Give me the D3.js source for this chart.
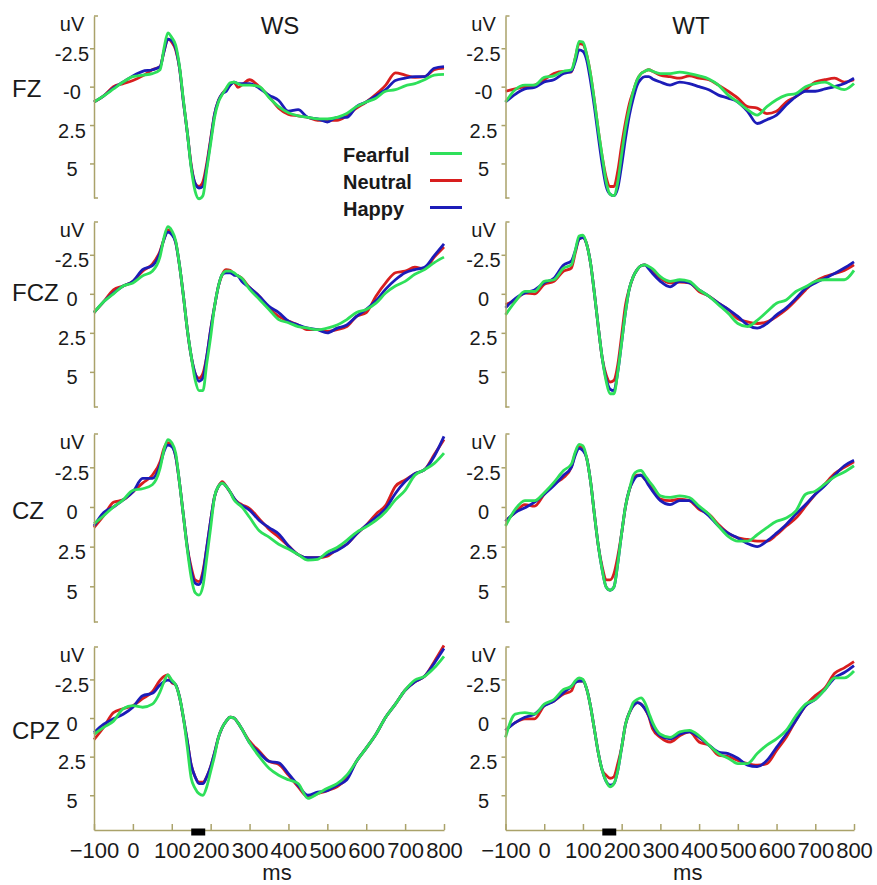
<!DOCTYPE html>
<html>
<head>
<meta charset="utf-8">
<script src="https://cdn.jsdelivr.net/npm/d3@7"></script>
<style>
body { margin: 0; background: #fff; }
text { font-family: "Liberation Sans", Arial, sans-serif; fill: #1a1a1a; }
</style>
</head>
<body>
<div id="chart"></div>
<script>
// time points (ms) shared by every waveform
var times = [-100,-75,-50,-25,0,25,50,70,80,90,100,110,120,130,140,150,160,170,180,190,200,210,220,230,240,250,260,270,280,300,325,350,375,400,425,450,475,500,525,550,575,600,625,650,675,700,725,750,775,800];

var groups = ["WS", "WT"];
var electrodes = ["FZ", "FCZ", "CZ", "CPZ"];
var conditions = ["Fearful", "Neutral", "Happy"];
var xTicks = [-100, 0, 100, 200, 300, 400, 500, 600, 700, 800];
var yTicks = [-2.5, 0, 2.5, 5];
var yTickLabelsFZ = ["-2.5", "-0", "2.5", "5"];
var yTickLabels = ["-2.5", "0", "2.5", "5"];
var sigWindow = [150, 186];

// ---- WS ----
var wsFZ_fearful = [1.0,0.6,0.15,-0.3,-0.65,-0.75,-0.85, -1.1,-2.5,-3.5,-3.2,-2.7, -1.3,0.9,3.0,5.3,6.8,7.3,7.1,5.4,3.7, 2.0,1.0,0.5,0.1,-0.25,-0.3,-0.2,-0.1, -0.1,0.0,0.7,1.3,1.7,1.9,2.0,2.1,2.1,2.0,1.75,1.3,1.0,0.75,0.3,0.2,-0.05,-0.2,-0.45,-0.75,-0.8];
var wsFZ_neutral = [1.0,0.6,0.0,-0.2,-0.4,-0.7,-1.1, -1.3,-2.3,-3.1,-2.9,-2.4, -1.2,1.0,3.0,5.1,6.3,6.5,6.2,5.0,3.4, 1.8,0.9,0.45,0.15,-0.1,-0.3,0.05,-0.1, -0.45,0.0,0.65,1.4,1.8,1.9,2.0,2.2,2.2,2.2,1.9,1.4,1.0,0.5,-0.1,-0.9,-0.75,-0.6,-0.65,-1.1,-1.2];
var wsFZ_happy = [1.0,0.6,0.1,-0.3,-0.7,-1.0,-1.1, -1.3,-2.3,-3.1,-3.0,-2.5, -1.2,1.0,3.0,5.2,6.3,6.6,6.5,5.2,3.5, 1.8,0.9,0.45,0.3,-0.1,-0.3,-0.2,-0.2, -0.2,0.1,0.55,0.9,1.6,1.5,2.0,2.1,2.3,2.0,2.0,1.3,1.0,0.6,0.2,-0.4,-0.55,-0.65,-0.65,-1.2,-1.3];

var wsFCZ_fearful = [1.2,0.5,0.0,-0.5,-0.7,-1.15,-1.45, -2.4,-3.6,-4.3,-4.05,-3.4, -1.8,0.15,2.3,4.0,5.5,6.2,6.2,4.45,2.75, 0.8,-0.5,-1.25,-1.45,-1.45,-1.35,-1.15,-1.0, -0.3,0.35,1.0,1.65,1.85,2.1,2.2,2.3,2.2,2.0,1.65,1.2,1.0,0.6,-0.05,-0.5,-0.8,-1.25,-1.55,-2.0,-2.35];
var wsFCZ_neutral = [1.2,0.5,-0.25,-0.5,-0.8,-1.45,-1.9, -2.75,-3.5,-4.1,-3.9,-3.3, -1.8,0.15,2.3,4.0,5.1,5.4,5.1,4.0,2.3, 0.8,-0.5,-1.25,-1.55,-1.5,-1.25,-1.15,-1.0, -0.4,0.15,0.9,1.45,1.75,2.0,2.3,2.3,2.4,2.3,2.1,1.45,1.2,0.15,-0.7,-1.35,-1.45,-1.7,-1.6,-2.35,-3.0];
var wsFCZ_happy = [1.2,0.5,-0.05,-0.5,-0.8,-1.55,-1.8, -2.65,-3.5,-3.95,-3.8,-3.3, -1.8,0.15,2.3,4.0,5.1,5.6,5.4,4.0,2.3, 0.8,-0.5,-1.25,-1.35,-1.35,-1.2,-1.15,-0.8, -0.4,0.15,0.8,1.2,1.75,2.0,2.2,2.3,2.5,2.2,2.0,1.45,1.0,0.45,-0.3,-0.9,-1.35,-1.55,-1.7,-2.45,-3.2];

var wsCZ_fearful = [1.05,0.55,0.0,-0.45,-1.05,-1.15,-1.4, -2.45,-3.6,-4.25,-4.05,-3.4, -1.5,0.55,2.7,4.45,5.4,5.55,5.0,3.2,1.3, -0.65,-1.3,-1.5,-1.3,-0.95,-0.45,-0.2,0.0, 0.65,1.5,1.9,2.35,2.65,3.0,3.35,3.3,2.85,2.55,2.1,1.6,1.25,0.85,0.3,-0.45,-1.05,-2.0,-2.35,-2.75,-3.4];
var wsCZ_neutral = [1.3,0.55,-0.3,-0.45,-0.95,-1.5,-2.0, -2.85,-3.7,-4.05,-3.9,-3.2, -1.5,0.55,2.55,3.8,4.6,4.7,4.05,2.55,0.85, -0.65,-1.3,-1.6,-1.3,-0.95,-0.55,-0.3,-0.15, 0.1,0.75,1.4,1.9,2.45,3.0,3.2,3.2,3.1,2.65,2.35,1.7,1.15,0.45,-0.1,-1.3,-1.7,-2.1,-2.35,-3.3,-4.25];
var wsCZ_happy = [1.2,0.35,0.0,-0.45,-0.95,-1.8,-1.8, -2.65,-3.5,-3.9,-3.8,-3.2, -1.5,0.55,2.55,4.05,4.8,4.9,4.25,2.55,0.85, -0.65,-1.3,-1.5,-1.3,-0.95,-0.55,-0.25,-0.1, 0.2,0.85,1.3,1.7,2.45,3.0,3.2,3.2,3.0,2.75,2.35,1.7,1.15,0.65,0.1,-0.85,-1.6,-2.1,-2.35,-3.2,-4.45];

var wsCPZ_fearful = [1.05,0.6,0.2,-0.6,-0.8,-0.7,-0.9, -1.7,-2.35,-2.8,-2.45,-2.15, -1.35,0.0,1.9,3.9,4.55,4.9,5.0,4.45,3.45, 2.45,1.25,0.6,0.2,-0.05,0.0,0.3,0.7, 1.6,2.5,3.25,3.7,4.0,4.25,5.2,4.9,4.55,4.25,3.7,2.8,1.95,1.05,-0.05,-0.9,-1.8,-2.45,-2.7,-3.25,-4.0];
var wsCPZ_neutral = [1.4,0.6,-0.35,-0.6,-0.8,-1.25,-1.7, -2.45,-2.7,-2.8,-2.3,-2.15, -1.35,0.0,1.5,3.05,3.8,4.15,4.15,3.8,3.15, 2.25,1.25,0.6,0.2,-0.05,0.0,0.3,0.7, 1.5,2.15,2.8,3.0,3.7,4.45,5.1,4.9,4.7,4.45,3.9,2.8,1.95,1.05,-0.05,-0.9,-1.8,-2.35,-2.7,-3.65,-4.7];
var wsCPZ_happy = [0.95,0.4,0.05,-0.25,-0.7,-1.45,-1.6, -2.15,-2.35,-2.45,-2.35,-2.15, -1.35,0.0,1.5,3.05,3.8,4.25,4.25,3.8,3.15, 2.25,1.25,0.6,0.2,-0.05,0.0,0.3,0.7, 1.6,2.25,2.8,2.9,3.6,4.35,5.0,4.8,4.7,4.35,4.0,2.8,1.95,1.05,-0.05,-0.9,-1.8,-2.35,-2.7,-3.55,-4.5];

// ---- WT ----
var wtFZ_fearful = [1.0,0.2,-0.1,-0.1,-0.6,-0.7,-1.0, -1.1,-1.85,-2.95,-2.9,-2.05, -0.75,1.0,2.9,4.6,6.2,7.0,7.1,6.2,4.4, 2.7,1.4,0.3,-0.45,-0.85,-1.0,-1.1,-1.0, -0.85,-0.85,-0.95,-0.85,-0.7,-0.5,-0.1,0.55,1.0,1.5,1.85,1.3,0.85,0.55,0.45,0.0,-0.2,-0.3,0.0,0.2,-0.2];
var wtFZ_neutral = [0.3,0.15,0.0,-0.1,-0.45,-0.85,-1.0, -0.95,-1.85,-2.8,-2.75,-2.05, -0.75,1.0,2.9,4.6,5.9,6.5,6.5,5.5,3.8, 2.3,1.1,0.3,-0.45,-0.85,-1.0,-1.1,-1.0, -0.75,-0.65,-0.55,-0.7,-0.55,-0.45,-0.1,0.3,0.75,1.3,1.4,1.75,1.6,1.0,0.65,0.2,-0.3,-0.45,-0.55,-0.3,-0.45];
var wtFZ_happy = [1.0,0.5,0.15,0.05,-0.3,-0.45,-0.85, -1.0,-1.6,-2.4,-2.3,-1.7, -0.3,1.4,3.3,5.1,6.5,7.0,7.1,6.6,5.1, 3.35,1.85,0.75,-0.1,-0.5,-0.65,-0.65,-0.5, -0.3,-0.1,-0.3,-0.2,0.0,0.2,0.55,0.75,1.0,1.6,2.4,2.15,1.85,1.2,0.65,0.3,0.3,0.15,0.0,-0.2,-0.55];

var wtFCZ_fearful = [1.35,0.5,-0.15,-0.15,-0.8,-0.9,-1.65, -1.85,-2.75,-3.7,-3.75,-3.15, -1.9,0.05,2.2,4.15,5.6,6.4,6.4,5.0,3.1, 1.15,-0.35,-1.1,-1.55,-1.8,-1.85,-1.75,-1.6, -1.1,-0.8,-0.9,-0.8,-0.25,0.15,0.7,1.25,1.9,2.1,1.7,1.15,0.6,0.4,-0.15,-0.45,-0.8,-0.9,-0.9,-0.9,-1.5];
var wtFCZ_neutral = [0.7,0.4,-0.05,0.0,-0.6,-0.8,-1.45, -1.65,-2.6,-3.5,-3.6,-3.15, -1.9,0.05,2.2,4.15,5.2,5.65,5.55,4.55,2.65, 0.7,-0.35,-1.1,-1.55,-1.8,-1.85,-1.7,-1.5, -1.0,-0.7,-0.75,-0.7,-0.15,0.15,0.6,1.0,1.6,1.8,1.9,1.8,1.45,1.0,0.4,-0.25,-0.8,-1.1,-1.3,-1.5,-1.85];
var wtFCZ_happy = [0.9,0.3,-0.05,-0.25,-0.7,-1.0,-1.85, -2.1,-2.75,-3.5,-3.6,-3.15, -1.9,0.05,2.2,4.15,5.45,6.1,6.2,5.0,3.1, 1.15,-0.35,-1.1,-1.55,-1.8,-1.85,-1.6,-1.3, -0.8,-0.45,-0.8,-0.7,-0.25,0.15,0.6,1.0,1.45,2.0,2.2,1.9,1.35,0.9,0.3,-0.35,-0.7,-1.0,-1.3,-1.65,-2.05];

var wtCZ_fearful = [1.2,0.15,-0.4,-0.4,-0.9,-1.55,-2.3, -2.7,-3.45,-3.95,-3.85,-3.05, -1.55,0.55,2.5,4.0,5.05,5.25,5.05,3.55,1.65, -0.05,-1.1,-2.0,-2.25,-2.3,-2.0,-1.65,-1.35, -0.7,-0.6,-0.7,-0.6,-0.05,0.45,1.2,1.85,2.15,2.15,1.75,1.3,0.9,0.7,0.25,-0.8,-1.0,-1.45,-1.9,-2.2,-2.6];
var wtCZ_neutral = [0.9,0.35,-0.15,-0.05,-0.8,-1.45,-1.85, -2.5,-3.35,-3.8,-3.65,-3.05, -1.55,0.55,2.5,3.8,4.6,4.6,4.2,3.1,1.65, -0.05,-1.1,-1.75,-2.0,-2.0,-1.75,-1.55,-1.15, -0.5,-0.4,-0.5,-0.4,0.15,0.45,1.1,1.65,1.95,2.05,2.15,2.15,1.75,1.2,0.7,-0.05,-0.8,-1.45,-2.1,-2.5,-2.85];
var wtCZ_happy = [0.9,0.35,0.05,-0.3,-0.8,-1.35,-2.0, -2.5,-3.25,-3.7,-3.55,-3.05, -1.55,0.55,2.5,4.0,5.05,5.25,5.05,3.55,1.65, -0.05,-1.1,-1.65,-1.95,-2.0,-1.75,-1.35,-1.0, -0.4,-0.15,-0.4,-0.4,0.05,0.55,1.2,1.65,1.95,2.3,2.5,2.15,1.65,1.1,0.45,-0.15,-0.8,-1.35,-2.0,-2.6,-2.95];

var wtCPZ_fearful = [1.25,-0.25,-0.35,-0.25,-0.9,-1.2,-1.85, -2.05,-2.4,-2.6,-2.5,-1.85, -0.7,0.8,2.3,3.4,4.1,4.45,4.25,3.4,1.9, 0.4,-0.35,-1.0,-1.2,-1.3,-1.0,-0.35,0.3, 1.05,1.25,0.9,0.8,1.15,1.75,2.3,2.6,2.95,2.95,2.3,1.75,1.35,0.8,-0.15,-0.9,-1.2,-1.85,-2.6,-2.6,-3.05];
var wtCPZ_neutral = [0.8,0.3,0.05,0.05,-0.8,-1.1,-1.55, -1.75,-2.3,-2.4,-2.4,-1.85, -0.7,0.8,2.3,3.4,3.7,3.9,3.8,2.95,1.9, 0.4,-0.35,-0.8,-1.0,-0.9,-0.6,-0.1,0.7, 1.25,1.55,1.15,0.9,1.55,1.75,2.4,2.5,2.75,2.95,3.05,2.95,2.1,1.25,0.15,-0.8,-1.45,-1.95,-2.9,-3.25,-3.65];
var wtCPZ_happy = [0.8,0.3,-0.05,-0.25,-0.8,-1.1,-1.65, -2.05,-2.3,-2.4,-2.4,-1.85, -0.7,0.8,2.3,3.4,4.1,4.35,4.25,3.4,1.9, 0.4,-0.35,-0.8,-1.0,-0.9,-0.6,-0.15,0.5, 1.15,1.35,1.05,0.9,1.25,1.75,2.2,2.3,2.6,3.05,3.15,2.75,1.9,1.05,0.15,-0.8,-1.2,-1.85,-2.6,-2.95,-3.4];

// lookup table built from the arrays above
var waves = {
    WS: {
        FZ:  { Fearful: wsFZ_fearful,  Neutral: wsFZ_neutral,  Happy: wsFZ_happy },
        FCZ: { Fearful: wsFCZ_fearful, Neutral: wsFCZ_neutral, Happy: wsFCZ_happy },
        CZ:  { Fearful: wsCZ_fearful,  Neutral: wsCZ_neutral,  Happy: wsCZ_happy },
        CPZ: { Fearful: wsCPZ_fearful, Neutral: wsCPZ_neutral, Happy: wsCPZ_happy }
    },
    WT: {
        FZ:  { Fearful: wtFZ_fearful,  Neutral: wtFZ_neutral,  Happy: wtFZ_happy },
        FCZ: { Fearful: wtFCZ_fearful, Neutral: wtFCZ_neutral, Happy: wtFCZ_happy },
        CZ:  { Fearful: wtCZ_fearful,  Neutral: wtCZ_neutral,  Happy: wtCZ_happy },
        CPZ: { Fearful: wtCPZ_fearful, Neutral: wtCPZ_neutral, Happy: wtCPZ_happy }
    }
};

// sanity check on lengths
groups.forEach(function(g) {
    electrodes.forEach(function(e) {
        conditions.forEach(function(c) {
            if (waves[g][e][c].length !== times.length) {
                throw new Error(g + " " + e + " " + c + " has " + waves[g][e][c].length + " points");
            }
        });
    });
});

// layout
var svgWidth = 877;
var svgHeight = 885;
var colLeft = [94, 505.5];
var colRight = [444, 854];
var colTitleX = [280, 691];
var rowTop = [16, 222, 434, 647];
var rowBottom = [198, 407, 622, 830];
var rowLabelY = [97, 301, 519, 739];
var yDomain = [-4.6, 7.25];

var colors = { Fearful: "#2ee05a", Neutral: "#d81e1e", Happy: "#1c1cb8" };
var drawOrder = ["Neutral", "Happy", "Fearful"];
var axisColor = "#aaa26a";

var svg = d3.select("#chart")
    .append("svg")
    .attr("width", svgWidth)
    .attr("height", svgHeight);

groups.forEach(function(group, c) {
    var x = d3.scaleLinear()
        .domain([-100, 800])
        .range([colLeft[c], colRight[c]]);

    // column title
    svg.append("text")
        .attr("x", colTitleX[c])
        .attr("y", 34)
        .attr("text-anchor", "middle")
        .style("font-size", "24px")
        .text(group);

    electrodes.forEach(function(elec, r) {
        var y = d3.scaleLinear()
            .domain(yDomain)
            .range([rowTop[r], rowBottom[r]]);

        var panel = svg.append("g");

        // waveforms
        var line = d3.line()
            .x(function(d, i) { return x(times[i]); })
            .y(function(d) { return y(d); })
            .curve(d3.curveMonotoneX);

        drawOrder.forEach(function(cond) {
            panel.append("path")
                .datum(waves[group][elec][cond])
                .attr("d", line)
                .attr("fill", "none")
                .attr("stroke", colors[cond])
                .attr("stroke-width", 2.8)
                .attr("stroke-linejoin", "round");
        });

        // y axis
        var labels = elec === "FZ" ? yTickLabelsFZ : yTickLabels;
        var leftAxis = d3.axisLeft(y)
            .tickValues(yTicks)
            .tickSize(4)
            .tickSizeOuter(0)
            .tickFormat(function(d, i) { return labels[i]; });

        var gy = panel.append("g")
            .attr("transform", `translate(${x(-100)}, 0)`)
            .call(leftAxis);
        gy.attr("font-family", null).attr("font-size", null);
        gy.select(".domain").attr("stroke", axisColor).attr("stroke-width", 1.5);
        gy.selectAll(".tick line").attr("stroke", axisColor).attr("stroke-width", 1.5);
        gy.selectAll(".tick text")
            .attr("x", -22)
            .attr("y", 5)
            .attr("dy", "0.35em")
            .attr("text-anchor", "middle")
            .attr("fill", null)
            .style("font-size", "20px");

        // small end marks pointing right
        [rowTop[r], rowBottom[r]].forEach(function(yy, k) {
            if (k === 1 && r === electrodes.length - 1) return;
            gy.append("line")
                .attr("x1", 0).attr("x2", 4)
                .attr("y1", yy).attr("y2", yy)
                .attr("stroke", axisColor)
                .attr("stroke-width", 1.5);
        });

        gy.append("text")
            .attr("x", -22)
            .attr("y", rowTop[r] + 8)
            .attr("dy", "0.35em")
            .attr("text-anchor", "middle")
            .style("font-size", "20px")
            .text("uV");

        // electrode label (left column only)
        if (c === 0) {
            svg.append("text")
                .attr("x", 12)
                .attr("y", rowLabelY[r])
                .style("font-size", "24px")
                .text(elec);
        }

        // time axis on the bottom row
        if (r === electrodes.length - 1) {
            var bottomAxis = d3.axisBottom(x)
                .tickValues(xTicks)
                .tickSize(-6)
                .tickSizeOuter(0)
                .tickPadding(12)
                .tickFormat(d3.format("d"));

            var gx = panel.append("g")
                .attr("transform", `translate(0, ${rowBottom[r]})`)
                .call(bottomAxis);
            gx.attr("font-family", null).attr("font-size", null);
            gx.select(".domain").attr("stroke", axisColor).attr("stroke-width", 1.5);
            gx.selectAll(".tick line").attr("stroke", axisColor).attr("stroke-width", 1.5);
            gx.selectAll(".tick text")
                .attr("fill", null)
                .style("font-size", "22px");

            // significant time window
            panel.append("rect")
                .attr("x", x(sigWindow[0]))
                .attr("y", rowBottom[r] - 1.5)
                .attr("width", x(sigWindow[1]) - x(sigWindow[0]))
                .attr("height", 7)
                .attr("fill", "#000");

            panel.append("text")
                .attr("x", (colLeft[c] + colRight[c]) / 2 + 8)
                .attr("y", rowBottom[r] + 50)
                .attr("text-anchor", "middle")
                .style("font-size", "22px")
                .text("ms");
        }
    });
});

// legend
var legendY = [162, 189, 216];
var legend = svg.append("g");
conditions.forEach(function(cond, i) {
    legend.append("text")
        .attr("x", 343)
        .attr("y", legendY[i])
        .style("font-size", "20px")
        .style("font-weight", "bold")
        .text(cond);
    legend.append("line")
        .attr("x1", 430).attr("x2", 462)
        .attr("y1", legendY[i] - 8.5).attr("y2", legendY[i] - 8.5)
        .attr("stroke", colors[cond])
        .attr("stroke-width", 3);
});
</script>
</body>
</html>
